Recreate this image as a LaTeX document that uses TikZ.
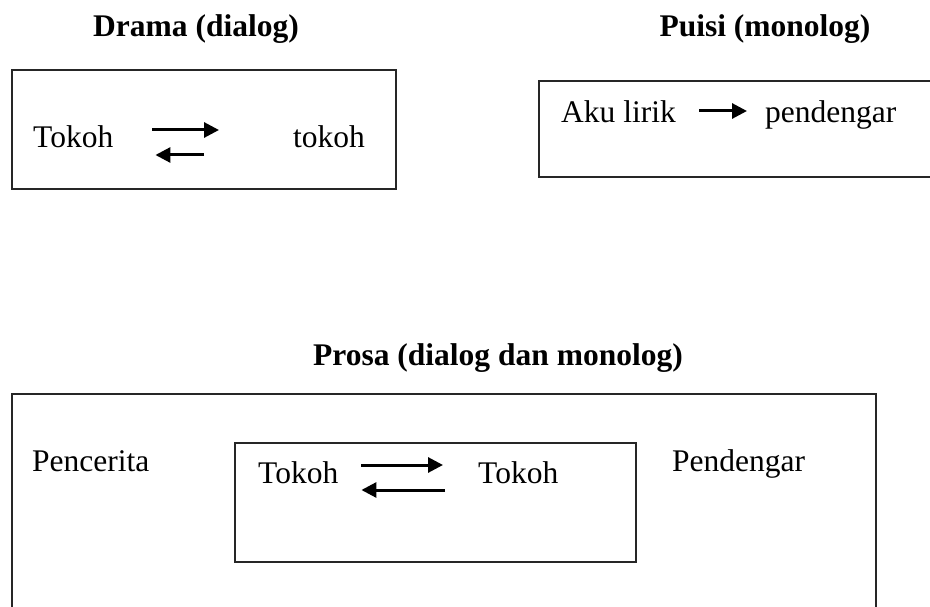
\documentclass[tikz,border=0pt]{standalone}
\usepackage{fontspec}
\setmainfont{Liberation Serif}
\usetikzlibrary{arrows.meta}
\begin{document}
\begin{tikzpicture}[x=1pt,y=-1pt,
  txt/.style={inner sep=0pt, font=\fontsize{31.5}{36}\selectfont},
  ttl/.style={inner sep=0pt, font=\fontsize{31.5}{36}\selectfont\bfseries},
  box/.style={draw=black!85, line width=1.4pt},
  arr/.style={line width=3pt, -{Triangle[length=15pt,width=15pt]}}]
\useasboundingbox (0,0) rectangle (930,607);
\clip (0,0) rectangle (930,607);

% headings
\node[ttl, anchor=base] (tdrama) at (196,37) {Drama (dialog)};
\node[ttl, anchor=base] (tpuisi) at (765,37) {Puisi (monolog)};
\node[ttl, anchor=base] (tprosa) at (498,365) {Prosa (dialog dan monolog)};

% drama: dialogue between characters
\draw[box] (12,70) rectangle (396,189);
\node[txt, anchor=base west] (d1) at (33,148) {Tokoh};
\node[txt, anchor=base west] (d2) at (293,148) {tokoh};
\draw[arr] ([xshift=39pt,yshift=18pt]d1.base east) -- ([xshift=-74pt,yshift=18pt]d2.base west);
\draw[arr] ([xshift=-89pt,yshift=-7pt]d2.base west) -- ([xshift=42pt,yshift=-7pt]d1.base east);

% puisi: lyrical I speaks to the listener
\draw[box] (950,81) -- (539,81) -- (539,177) -- (950,177);
\node[txt, anchor=base west] (p1) at (561,123) {Aku lirik};
\node[txt, anchor=base west] (p2) at (765,123) {pendengar};
\draw[arr] ([xshift=23pt,yshift=12pt]p1.base east) -- ([xshift=-18pt,yshift=12pt]p2.base west);

% prosa: narrator, characters, listener
\draw[box] (12,650) -- (12,394) -- (876,394) -- (876,650);
\node[txt, anchor=base west] (narr) at (32,471) {Pencerita};
\node[txt, anchor=base west] (lst) at (672,471) {Pendengar};
\draw[box] (235,443) rectangle (636,562);
\node[txt, anchor=base west] (k1) at (258,483) {Tokoh};
\node[txt, anchor=base west] (k2) at (478,483) {Tokoh};
\draw[arr] ([xshift=23pt,yshift=18pt]k1.base east) -- ([xshift=-35pt,yshift=18pt]k2.base west);
\draw[arr] ([xshift=-33pt,yshift=-7pt]k2.base west) -- ([xshift=23pt,yshift=-7pt]k1.base east);
\end{tikzpicture}
\end{document}
